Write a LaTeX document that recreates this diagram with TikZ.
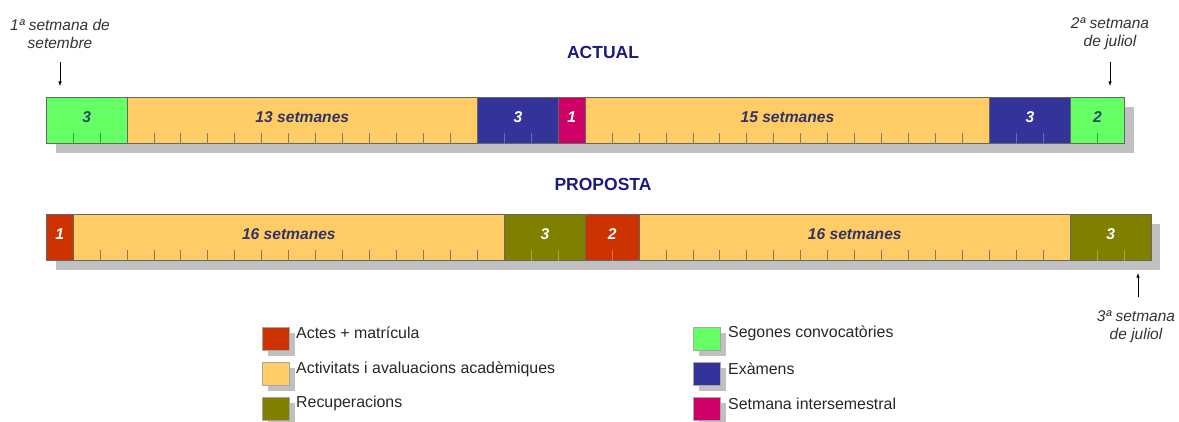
\documentclass[tikz,border=0pt]{standalone}
\usepackage{fontspec}
\setmainfont{Liberation Sans}
\definecolor{cgreen}{HTML}{66FF66}
\definecolor{corange}{HTML}{FFCC66}
\definecolor{cnavy}{HTML}{333399}
\definecolor{cmag}{HTML}{CC0066}
\definecolor{cred}{HTML}{CC3300}
\definecolor{colive}{HTML}{808000}
\definecolor{cshadow}{HTML}{C0C0C0}
\definecolor{clabel}{HTML}{333366}
\definecolor{cgreenlbl}{HTML}{1F4E5F}
\definecolor{ctitle}{HTML}{1A1A80}
\definecolor{cnote}{HTML}{333333}
\definecolor{tkorange}{HTML}{8A7A60}
\definecolor{tknavy}{HTML}{6A6AB0}
\definecolor{tkgreen}{HTML}{3A9A3A}
\definecolor{tkolive}{HTML}{A8A840}
\definecolor{tkred}{HTML}{E06A50}
\newcommand\wk{26.95}
\tikzset{
  seg/.style={draw=black!60, line width=0.6pt, inner sep=0pt, minimum height=46pt, anchor=north west},
  lbl/.style={font=\fontsize{15.6}{17}\selectfont\bfseries\itshape, inner sep=0pt},
  tickmark/.style={line width=0.6pt},
  ttl/.style={font=\fontsize{17.5}{20}\selectfont\bfseries, text=ctitle, inner sep=0pt},
  note/.style={font=\fontsize{15.5}{18}\selectfont\itshape, text=cnote, align=center, inner sep=0pt},
  arr/.style={-latex, line width=0.6pt, black},
  legsq/.style={draw=black!35, line width=0.5pt, minimum width=27pt, minimum height=23pt, inner sep=0pt, anchor=north west},
  legtxt/.style={font=\fontsize{15.9}{18}\selectfont, text=black!85, anchor=west, inner sep=0pt}
}
% name, startweek, nweeks, top y, fill, text colour, tick colour, label
\newcommand\segm[8]{%
  \node[seg, fill=#5, minimum width={#3*\wk*1pt}] (#1) at ({46+#2*\wk},#4) {};
  \ifnum#3>1
    \foreach \i in {1,...,\the\numexpr#3-1\relax}
      \draw[tickmark, draw=#7] ([xshift={\i*\wk*1pt}]#1.south west) -- ++(0,-11);
  \fi
  \node[lbl, text=#6] (#1l) at ([yshift=3pt]#1.center) {#8};
}
\newcommand\legitem[4]{% name, x, y, colour
  \fill[cshadow] (#2+6,#3+6) rectangle ++(27,23);
  \node[legsq, fill=#4] (#1) at (#2,#3) {};
}
\begin{document}
\begin{tikzpicture}[x=1pt,y=-1pt]
\useasboundingbox (0,0) rectangle (1179,421);
% titles
\node[ttl] (tact) at (603,52) {ACTUAL};
\node[ttl] (tprop) at (603,184) {PROPOSTA};
% ACTUAL bar
\fill[cshadow] (56,107) rectangle (1134,153);
\segm{a1}{0}{3}{97}{cgreen}{cgreenlbl}{tkgreen}{3}
\segm{a2}{3}{13}{97}{corange}{clabel}{tkorange}{13 setmanes}
\segm{a3}{16}{3}{97}{cnavy}{white}{tknavy}{3}
\segm{a4}{19}{1}{97}{cmag}{white}{tknavy}{1}
\segm{a5}{20}{15}{97}{corange}{clabel}{tkorange}{15 setmanes}
\segm{a6}{35}{3}{97}{cnavy}{white}{tknavy}{3}
\segm{a7}{38}{2}{97}{cgreen}{cgreenlbl}{tkgreen}{2}
% PROPOSTA bar
\fill[cshadow] (56,224) rectangle (1160,270);
\segm{p1}{0}{1}{214}{cred}{white}{tkred}{1}
\segm{p2}{1}{16}{214}{corange}{clabel}{tkorange}{16 setmanes}
\segm{p3}{17}{3}{214}{colive}{white}{tkolive}{3}
\segm{p4}{20}{2}{214}{cred}{white}{tkred}{2}
\segm{p5}{22}{16}{214}{corange}{clabel}{tkorange}{16 setmanes}
\segm{p6}{38}{3}{214}{colive}{white}{tkolive}{3}
% annotations
\node[note] (n1) at (60,34) {1ª setmana de\\setembre};
\coordinate (n1s) at (60,62);
\coordinate (n1e) at (60,86);
\draw[arr] (n1s) -- (n1e);
\node[note] (n2) at (1110,34) {2ª setmana\\de juliol};
\coordinate (n2s) at (1110,62);
\coordinate (n2e) at (1110,86);
\draw[arr] (n2s) -- (n2e);
\node[note] (n3) at (1136,327) {3ª setmana\\de juliol};
\coordinate (n3s) at (1138,297);
\coordinate (n3e) at (1138,273);
\draw[arr] (n3s) -- (n3e);
% legend
\legitem{l1}{262}{327}{cred}
\node[legtxt] (l1t) at (296,333) {Actes + matrícula};
\legitem{l2}{262}{362}{corange}
\node[legtxt] (l2t) at (296,369) {Activitats i avaluacions acadèmiques};
\legitem{l3}{262}{397}{colive}
\node[legtxt] (l3t) at (296,403) {Recuperacions};
\legitem{r1}{693}{327}{cgreen}
\node[legtxt] (r1t) at (728,333) {Segones convocatòries};
\legitem{r2}{693}{362}{cnavy}
\node[legtxt] (r2t) at (728,369) {Exàmens};
\legitem{r3}{693}{397}{cmag}
\node[legtxt] (r3t) at (728,404) {Setmana intersemestral};
\end{tikzpicture}
\end{document}
